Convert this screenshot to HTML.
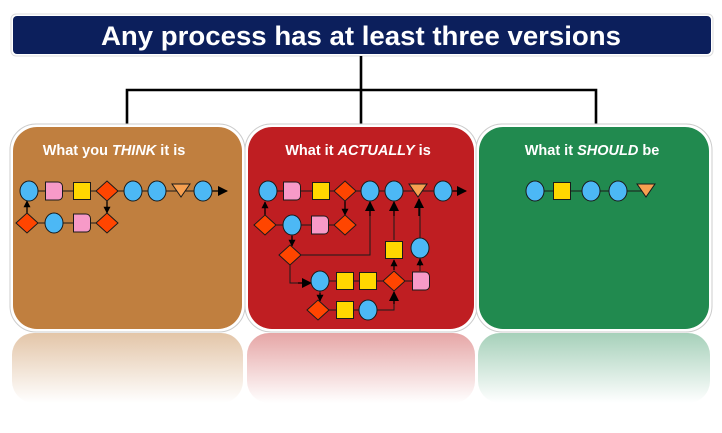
<!DOCTYPE html>
<html><head><meta charset="utf-8"><style>
html,body{margin:0;padding:0;background:#fff;}
svg{display:block;}
text{font-family:"Liberation Sans",sans-serif;}
</style></head><body>
<svg width="722" height="433" viewBox="0 0 722 433" xmlns="http://www.w3.org/2000/svg">
<defs>
<linearGradient id="fb" x1="0" y1="0" x2="0" y2="1"><stop offset="0" stop-color="#c17f3e" stop-opacity="0.45"/><stop offset="1" stop-color="#c17f3e" stop-opacity="0"/></linearGradient>
<linearGradient id="fr" x1="0" y1="0" x2="0" y2="1"><stop offset="0" stop-color="#c02020" stop-opacity="0.4"/><stop offset="1" stop-color="#c02020" stop-opacity="0"/></linearGradient>
<linearGradient id="fg" x1="0" y1="0" x2="0" y2="1"><stop offset="0" stop-color="#208a50" stop-opacity="0.4"/><stop offset="1" stop-color="#208a50" stop-opacity="0"/></linearGradient>
<marker id="ar" viewBox="0 0 10 10" refX="9" refY="5" markerWidth="7" markerHeight="7" markerUnits="userSpaceOnUse" orient="auto"><path d="M0,0L10,5L0,10z" fill="#000"/></marker>
<marker id="ab" viewBox="0 0 10 10" refX="9" refY="5" markerWidth="11" markerHeight="10" markerUnits="userSpaceOnUse" orient="auto"><path d="M0,0L10,5L0,10z" fill="#000"/></marker>
<g id="C"><ellipse cx="0" cy="0" rx="9" ry="10" fill="#4cb8f5" stroke="#1a1a1a" stroke-width="1"/></g>
<g id="S"><rect x="-8.5" y="-8.5" width="17" height="17" fill="#ffd700" stroke="#1a1a1a" stroke-width="1"/></g>
<g id="D"><path d="M0,-10L11,0L0,10L-11,0z" fill="#ff4500" stroke="#1a1a1a" stroke-width="1"/></g>
<g id="P"><path d="M-8.5,-9H4A4.5,4.5 0 0 1 8.5,-4.5V5A4,4 0 0 1 4.5,9H-8.5z" fill="#f79ac8" stroke="#1a1a1a" stroke-width="1"/></g>
<g id="T"><path d="M-9,-6H9L0,7z" fill="#f7a050" stroke="#1a1a1a" stroke-width="1"/></g>
</defs>

<rect x="12" y="333" width="231" height="70" rx="22" fill="url(#fb)"/>
<rect x="247" y="333" width="228" height="70" rx="22" fill="url(#fr)"/>
<rect x="478" y="333" width="232" height="70" rx="22" fill="url(#fg)"/>

<rect x="11" y="14" width="702" height="42" rx="5" fill="#fff" stroke="#ddd"/>
<rect x="13" y="16" width="698" height="38" rx="4" fill="#0c1f5c"/>
<text x="361" y="45" text-anchor="middle" font-size="27" font-weight="bold" fill="#fff" textLength="520" lengthAdjust="spacingAndGlyphs">Any process has at least three versions</text>

<g stroke="#000" stroke-width="2.6" fill="none">
<path d="M361,56V90M127,128V90H596V128M361,90V128"/>
</g>

<rect x="10" y="124" width="235" height="208" rx="26" fill="#fff" stroke="#ccc"/>
<rect x="13" y="127" width="229" height="202" rx="24" fill="#c07f3f"/>
<rect x="245" y="124" width="232" height="208" rx="26" fill="#fff" stroke="#ccc"/>
<rect x="248" y="127" width="226" height="202" rx="24" fill="#bf1e22"/>
<rect x="476" y="124" width="236" height="208" rx="26" fill="#fff" stroke="#ccc"/>
<rect x="479" y="127" width="230" height="202" rx="24" fill="#218a4f"/>

<g font-size="14.5" font-weight="bold" fill="#fff" text-anchor="middle">
<text x="114" y="155">What you <tspan font-style="italic">THINK</tspan> it is</text>
<text x="358" y="155">What it <tspan font-style="italic">ACTUALLY</tspan> is</text>
<text x="592" y="155">What it <tspan font-style="italic">SHOULD</tspan> be</text>
</g>

<g stroke="#1a1a1a" stroke-width="1" fill="none">
<path d="M29,191H203"/>
<path d="M27,223H107"/>
</g>
<g stroke="#000" stroke-width="1.3" fill="none">
<path d="M203,191H227" marker-end="url(#ab)"/>
<path d="M27,213V201" marker-end="url(#ar)"/>
<path d="M107,201V213" marker-end="url(#ar)"/>
</g>
<use href="#C" x="29" y="191"/><use href="#P" x="54" y="191"/><use href="#S" x="82" y="191"/><use href="#D" x="107" y="191"/>
<use href="#C" x="133" y="191"/><use href="#C" x="157" y="191"/><use href="#T" x="181" y="190"/><use href="#C" x="203" y="191"/>
<use href="#D" x="27" y="223"/><use href="#C" x="54" y="223"/><use href="#P" x="82" y="223"/><use href="#D" x="107" y="223"/>

<g stroke="#1a1a1a" stroke-width="1" fill="none">
<path d="M268,191H443"/>
<path d="M265,225H345"/>
<path d="M320,281H412"/>
<path d="M318,310H368H394V298"/>
<path d="M290,255H370V203"/>
<path d="M394,240V203"/>
<path d="M420,238V203"/>
<path d="M290,255V283H310"/>
<path d="M292,235V245"/>
<path d="M394,270V261"/>
<path d="M420,271V258"/>
<path d="M320,291V300"/>
</g>
<g stroke="#000" stroke-width="1.3" fill="none">
<path d="M443,191H466" marker-end="url(#ab)"/>
<path d="M265,215V202" marker-end="url(#ar)"/>
<path d="M345,201V215" marker-end="url(#ar)"/>
<path d="M370,216V202" marker-end="url(#ab)"/>
<path d="M394,216V202" marker-end="url(#ab)"/>
<path d="M419,216V199" marker-end="url(#ab)"/>
<path d="M298,283H311" marker-end="url(#ab)"/>
<path d="M394,304V292" marker-end="url(#ab)"/>
<path d="M394,270V260" marker-end="url(#ar)"/>
<path d="M420,266V259" marker-end="url(#ar)"/>
<path d="M292,236V246" marker-end="url(#ar)"/>
<path d="M320,293V301" marker-end="url(#ar)"/>
</g>
<use href="#C" x="268" y="191"/><use href="#P" x="292" y="191"/><use href="#S" x="321" y="191"/><use href="#D" x="345" y="191"/>
<use href="#C" x="370" y="191"/><use href="#C" x="394" y="191"/><use href="#T" x="418" y="190"/><use href="#C" x="443" y="191"/>
<use href="#D" x="265" y="225"/><use href="#C" x="292" y="225"/><use href="#P" x="320" y="225"/><use href="#D" x="345" y="225"/>
<use href="#D" x="290" y="255"/>
<use href="#S" x="394" y="250"/><use href="#C" x="420" y="248"/>
<use href="#C" x="320" y="281"/><use href="#S" x="345" y="281"/><use href="#S" x="368" y="281"/><use href="#D" x="394" y="281"/><use href="#P" x="421" y="281"/>
<use href="#D" x="318" y="310"/><use href="#S" x="345" y="310"/><use href="#C" x="368" y="310"/>

<path d="M535,191H646" stroke="#1a1a1a" stroke-width="1"/>
<use href="#C" x="535" y="191"/><use href="#S" x="562" y="191"/><use href="#C" x="591" y="191"/><use href="#C" x="618" y="191"/><use href="#T" x="646" y="190"/>
</svg>
</body></html>
